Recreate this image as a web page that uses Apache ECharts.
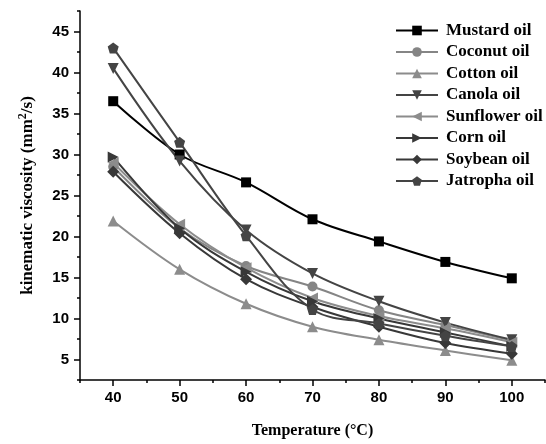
<!DOCTYPE html>
<html>
<head>
<meta charset="utf-8">
<script src="https://cdn.jsdelivr.net/npm/echarts@6/dist/echarts.min.js"></script>
<style>
  html, body { margin: 0; padding: 0; background: #fff; }
  #chart { width: 546px; height: 444px; }
</style>
</head>
<body>
<div id="chart"></div>
<script>
// temperatures (°C)
const temps = [40, 50, 60, 70, 80, 90, 100]

// kinematic viscosity (mm2/s) per oil
const mustard = [36.5, 30.0, 26.6, 22.1, 19.4, 16.9, 14.9]
const coconut = [28.5, 21.0, 16.4, 13.9, 11.0, 9.2, 7.3]
const cotton = [21.9, 16.0, 11.8, 9.0, 7.4, 6.1, 4.9]
const canola = [40.5, 29.2, 20.8, 15.5, 12.1, 9.5, 7.4]
const sunflower = [29.0, 21.5, 16.2, 12.5, 10.3, 8.8, 7.1]
const corn = [29.7, 21.0, 15.7, 12.1, 10.0, 8.3, 6.6]
const soybean = [27.9, 20.4, 14.8, 11.4, 9.0, 7.0, 5.7]
const jatropha = [43.0, 31.5, 20.1, 11.1, 9.4, 7.9, 6.6]

// tick values
const xMajor = [40, 50, 60, 70, 80, 90, 100]
const xMinor = [35, 45, 55, 65, 75, 85, 95, 105]
const yMajor = [5, 10, 15, 20, 25, 30, 35, 40, 45]
const yMinor = [2.5, 7.5, 12.5, 17.5, 22.5, 27.5, 32.5, 37.5, 42.5, 47.5]

const pentagon = 'path://M0,-10L9.5,-3.1L5.9,8.1L-5.9,8.1L-9.5,-3.1Z'

const seriesDefs = [
  { name: 'Mustard oil', data: mustard, color: '#000000', symbol: 'rect', rotate: 0, size: 10 },
  { name: 'Coconut oil', data: coconut, color: '#858585', symbol: 'circle', rotate: 0, size: 10 },
  { name: 'Cotton oil', data: cotton, color: '#8c8c8c', symbol: 'triangle', rotate: 0, size: 11 },
  { name: 'Canola oil', data: canola, color: '#444444', symbol: 'triangle', rotate: 180, size: 11 },
  { name: 'Sunflower oil', data: sunflower, color: '#8c8c8c', symbol: 'triangle', rotate: 90, size: 11 },
  { name: 'Corn oil', data: corn, color: '#383838', symbol: 'triangle', rotate: -90, size: 11 },
  { name: 'Soybean oil', data: soybean, color: '#383838', symbol: 'diamond', rotate: 0, size: 12 },
  { name: 'Jatropha oil', data: jatropha, color: '#444444', symbol: pentagon, rotate: 0, size: 11 }
]

const chart = echarts.init(document.getElementById('chart'))

const tickFont = { fontFamily: 'Liberation Sans', fontWeight: 'bold', fontSize: 15, color: '#000' }
const titleFont = { fontFamily: 'Liberation Serif', fontWeight: 'bold', fontSize: 16, color: '#000' }

const option = {
  animation: false,
  backgroundColor: '#fff',
  grid: { left: 80, right: 1, top: 11, bottom: 54 },
  legend: {
    orient: 'vertical',
    left: 395,
    top: 22,
    padding: 0,
    itemWidth: 42,
    itemHeight: 12,
    itemGap: 4.5,
    textStyle: { fontFamily: 'Liberation Serif', fontWeight: 'bold', fontSize: 17, color: '#000', padding: [0, 0, 0, 3] },
    data: seriesDefs.map(s => s.name)
  },
  xAxis: [
    {
      type: 'value', min: 35, max: 105,
      name: 'Temperature (°C)',
      nameLocation: 'middle',
      nameGap: 43,
      nameTextStyle: titleFont,
      splitLine: { show: false },
      axisLine: { lineStyle: { color: '#000', width: 1.5 } },
      axisTick: { customValues: xMajor, length: 6, inside: false, lineStyle: { color: '#000', width: 1.5 } },
      axisLabel: { customValues: xMajor, margin: 10, ...tickFont }
    },
    {
      type: 'value', min: 35, max: 105, position: 'bottom',
      splitLine: { show: false },
      axisLine: { show: false },
      axisTick: { customValues: xMinor, length: 3, lineStyle: { color: '#000', width: 1.5 } },
      axisLabel: { show: false }
    }
  ],
  yAxis: [
    {
      type: 'value', min: 2.5, max: 47.5,
      name: '{t|kinematic viscosity (mm}{s|2}{t|/s)}',
      nameLocation: 'middle',
      nameGap: 42,
      nameTextStyle: {
        rich: {
          t: { ...titleFont, fontSize: 17 },
          s: { ...titleFont, fontSize: 12, verticalAlign: 'bottom', padding: [0, 0, 9, 0] }
        }
      },
      splitLine: { show: false },
      axisLine: { show: true, lineStyle: { color: '#000', width: 1.5 } },
      axisTick: { show: true, customValues: yMajor, length: 6, lineStyle: { color: '#000', width: 1.5 } },
      axisLabel: { customValues: yMajor, margin: 11, ...tickFont }
    },
    {
      type: 'value', min: 2.5, max: 47.5, position: 'left',
      splitLine: { show: false },
      axisLine: { show: false },
      axisTick: { show: true, customValues: yMinor, length: 3, lineStyle: { color: '#000', width: 1.5 } },
      axisLabel: { show: false }
    }
  ],
  series: seriesDefs.map(s => ({
    name: s.name,
    type: 'line',
    xAxisIndex: 0,
    yAxisIndex: 0,
    data: temps.map((t, i) => [t, s.data[i]]),
    smooth: 0.35,
    symbol: s.symbol,
    symbolRotate: s.rotate,
    symbolSize: s.size,
    lineStyle: { color: s.color, width: 2 },
    itemStyle: { color: s.color }
  }))
}

chart.setOption(option)
</script>
</body>
</html>
